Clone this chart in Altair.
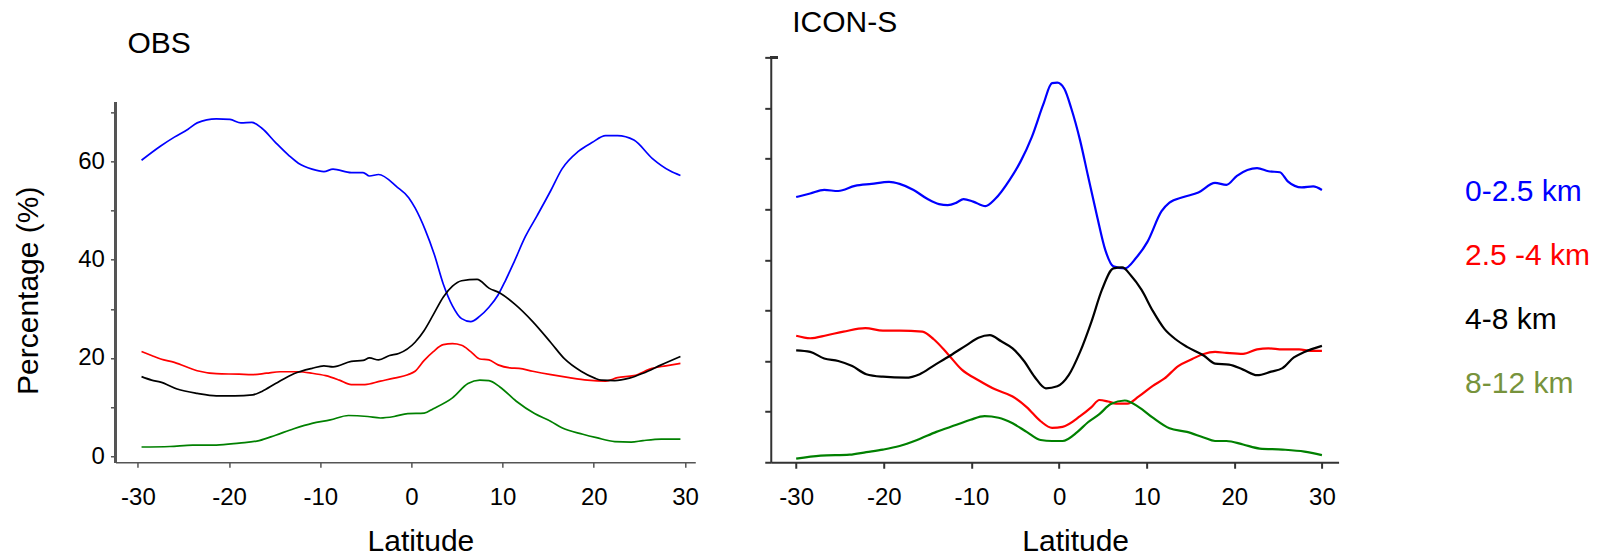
import altair as alt
import pandas as pd

FONT = "Liberation Sans"

LAYERS = ["0-2.5 km", "2.5 -4 km", "4-8 km", "8-12 km"]
LINE_COLORS = ["#0000ff", "#ff0000", "#000000", "#008000"]
LABEL_COLORS = ["#0000ff", "#ff0000", "#000000", "#77933c"]
LAT_TICKS = [-30, -20, -10, 0, 10, 20, 30]

# ---- OBS: cloud-top height fraction (%) against latitude ----
OBS_LOW_LAT = [-29.6, -27.5, -26, -24.5, -23.5, -21.4, -19.9, -18.7, -17.5, -16.4,
               -14.9, -13.4, -12.4, -10.9, -9.6, -8.6, -6.6, -5.3, -4.6, -3.6,
               -1.6, -0.3, 0.4, 1.5, 2.5, 3.5, 4.5, 5.5, 6.5, 7.5,
               8.5, 9.5, 10.3, 11.3, 12.5, 13.8, 15.3, 16.5, 18.3, 19.8,
               21.3, 22.6, 24.4, 26.4, 28.4, 29.5]
OBS_LOW_PCT = [60.2, 63.1, 64.9, 66.5, 67.8, 68.6, 68.5, 67.8, 67.9, 66.7,
               63.8, 61.1, 59.6, 58.4, 57.9, 58.4, 57.7, 57.7, 57.0, 57.3,
               54.8, 52.6, 50.5, 46.1, 41.1, 35.0, 30.6, 28.0, 27.4, 28.5,
               30.3, 32.8, 35.7, 39.7, 44.7, 49.0, 54.1, 58.4, 62.0, 63.8,
               65.2, 65.2, 64.3, 60.6, 58.0, 57.1]

OBS_MID_LAT = [-29.6, -28.5, -27.5, -26, -23.5, -21.4, -18.9, -17.5, -15.9, -14.4,
               -12.4, -10.9, -9.4, -7.9, -6.6, -5.1, -3.4, -1.9, -0.4, 0.4,
               1.4, 2.4, 3.5, 4.5, 5.5, 6.5, 7.5, 8.5, 9.5, 10.8,
               11.8, 13.3, 15.3, 17.3, 19.3, 21.3, 22.6, 24.4, 26.4, 27.9, 29.5]
OBS_MID_PCT = [21.3, 20.5, 19.8, 19.1, 17.4, 16.8, 16.7, 16.6, 16.9, 17.2,
               17.2, 16.9, 16.4, 15.5, 14.6, 14.6, 15.3, 15.9, 16.6, 17.3,
               19.5, 21.3, 22.7, 22.9, 22.6, 21.3, 19.8, 19.6, 18.6, 18.0,
               17.9, 17.3, 16.6, 16.0, 15.5, 15.3, 16.0, 16.4, 17.9, 18.4, 18.9]

OBS_HIGH_LAT = [-29.6, -28.5, -27.5, -25.7, -23.5, -21.4, -19.4, -17.4, -16.4, -14.9,
                -12.9, -10.9, -9.6, -8.6, -6.6, -5.3, -4.6, -3.6, -2.4, -1.4,
                0.4, 1.4, 2.4, 3.5, 4.5, 5.5, 7.2, 8.5, 9.7, 11.3,
                13.3, 15.3, 16.8, 18.6, 20.1, 20.8, 22.3, 23.9, 25.4, 27.4, 29.5]
OBS_HIGH_PCT = [16.2, 15.5, 15.1, 13.7, 12.8, 12.3, 12.3, 12.5, 13.2, 14.8,
                16.8, 17.9, 18.4, 18.2, 19.3, 19.5, 20.0, 19.6, 20.5, 20.9,
                23.2, 25.6, 28.8, 32.4, 34.6, 35.7, 36.0, 34.2, 33.2, 31.0,
                27.4, 23.1, 19.8, 17.3, 15.9, 15.5, 15.4, 15.9, 16.9, 18.6, 20.3]

OBS_TOP_LAT = [-29.6, -26.5, -24, -21.4, -18.9, -16.7, -14.9, -12.9, -10.9, -8.9,
               -6.9, -4.8, -3.4, -1.9, -0.4, 1.4, 2.4, 4.5, 6.2, 7.5,
               8.5, 9.7, 11.5, 13.5, 15.3, 16.5, 18.8, 20.3, 22.3, 24.1,
               25.4, 27.4, 29.5]
OBS_TOP_PCT = [1.9, 2.0, 2.3, 2.3, 2.7, 3.2, 4.3, 5.6, 6.7, 7.4,
               8.3, 8.1, 7.8, 8.1, 8.7, 8.8, 9.7, 11.9, 14.8, 15.5,
               15.4, 14.1, 11.2, 8.7, 7.1, 5.8, 4.5, 3.8, 3.0, 2.9,
               3.2, 3.5, 3.5]

# ---- ICON-S ----
ICON_LOW_LAT = [-30, -28.4, -26.8, -25.2, -23.3, -21.4, -19.4, -18.2, -16.6, -15.0,
                -13.7, -12.7, -11.7, -10.9, -9.8, -8.4, -7.3, -5.6, -4.4, -3.1,
                -1.8, -0.8, -0.2, 0.6, 1.4, 2.4, 3.3, 4.3, 5.3, 6.2,
                7.5, 8.8, 10.1, 11.7, 12.6, 14.2, 15.9, 17.8, 19.1, 20.3,
                22.6, 23.9, 25.2, 26.1, 27.7, 29.0, 30.0]
ICON_LOW_PCT = [52.4, 53.1, 53.8, 53.6, 54.6, 55.0, 55.4, 55.0, 53.8, 52.0,
                51.0, 50.8, 51.3, 52.0, 51.5, 50.6, 52.0, 55.9, 59.4, 64.3,
                70.7, 74.9, 75.0, 73.8, 69.9, 63.6, 56.6, 48.9, 41.8, 38.7,
                38.3, 40.4, 43.6, 49.6, 51.3, 52.4, 53.3, 55.2, 54.8, 56.6,
                58.1, 57.5, 57.3, 55.5, 54.3, 54.5, 53.8]

ICON_MID_LAT = [-30, -28.4, -26.5, -24.6, -22.1, -20.1, -18.2, -15.6, -14.3, -12.7,
                -11.1, -9.2, -7.3, -5.3, -3.7, -2.1, -0.8, 0.4, 2.4, 3.7,
                4.6, 5.6, 6.5, 7.8, 9.1, 10.7, 12.0, 13.6, 15.2, 16.5,
                17.8, 19.1, 21.0, 22.6, 23.9, 25.5, 27.4, 28.7, 30.0]
ICON_MID_PCT = [25.0, 24.5, 25.1, 25.8, 26.5, 26.0, 26.0, 25.8, 24.3, 21.4,
                18.3, 16.2, 14.4, 13.0, 10.9, 8.1, 6.8, 7.0, 9.1, 10.9,
                12.3, 12.0, 11.6, 11.6, 13.0, 15.1, 16.5, 19.0, 20.4, 21.4,
                21.8, 21.6, 21.4, 22.3, 22.5, 22.3, 22.3, 22.0, 22.0]

ICON_HIGH_LAT = [-30, -28.4, -26.8, -25.2, -23.6, -22.0, -20.1, -17.5, -15.9, -14.3,
                 -12.4, -10.5, -9.2, -7.9, -6.6, -5.3, -4.0, -2.8, -1.5, -0.2,
                 1.1, 2.4, 3.7, 4.9, 6.2, 7.2, 8.2, 9.4, 10.7, 12.0,
                 13.3, 14.6, 16.5, 17.8, 19.4, 21.0, 22.6, 24.2, 25.5, 26.8,
                 28.0, 30.0]
ICON_HIGH_PCT = [22.1, 21.8, 20.5, 20.0, 19.0, 17.4, 16.9, 16.7, 17.4, 19.1,
                 21.1, 23.2, 24.6, 25.1, 23.9, 22.5, 20.0, 16.9, 14.6, 15.0,
                 17.2, 21.8, 27.8, 34.1, 38.3, 38.5, 36.9, 34.1, 29.9, 26.4,
                 24.3, 22.8, 21.1, 19.5, 19.3, 18.3, 17.2, 17.9, 18.6, 20.7,
                 21.8, 23.0]

ICON_TOP_LAT = [-30, -27.2, -23.9, -22.0, -20.1, -18.2, -16.2, -14.0, -11.7, -10.1,
                -8.5, -6.9, -5.3, -3.7, -2.1, -0.8, 0.4, 2.1, 3.3, 4.6,
                5.9, 7.5, 9.1, 10.7, 12.6, 14.6, 16.5, 17.8, 19.1, 21.0,
                22.9, 25.5, 28.0, 30.0]
ICON_TOP_PCT = [0.7, 1.3, 1.5, 2.0, 2.5, 3.2, 4.4, 6.0, 7.4, 8.4,
                9.1, 8.8, 7.7, 6.0, 4.4, 4.2, 4.2, 6.0, 7.9, 9.5,
                11.5, 12.2, 10.9, 8.8, 6.7, 6.0, 4.9, 4.2, 4.2, 3.5,
                2.7, 2.5, 2.1, 1.4]

# axis extents (left panel y-axis line runs slightly past the 0..70 ticks)
OBS_X_DOMAIN = [-32.46, 31.13]
OBS_Y_DOMAIN = [-1.2, 81.12]
OBS_Y_LINE = [-1.2, 71.9]
ICON_X_DOMAIN = [-32.9, 31.9]
ICON_Y_DOMAIN = [0, 80]

# plain hyphen for negative tick labels
HYPHEN_LABEL = "datum.value < 0 ? '-' + abs(datum.value) : '' + datum.value"


def long_table(series):
    rows = []
    for layer, lats, pcts in series:
        rows += [{"layer": layer, "lat": a, "pct": b} for a, b in zip(lats, pcts)]
    return pd.DataFrame(rows)


obs_df = long_table([
    (LAYERS[0], OBS_LOW_LAT, OBS_LOW_PCT),
    (LAYERS[1], OBS_MID_LAT, OBS_MID_PCT),
    (LAYERS[2], OBS_HIGH_LAT, OBS_HIGH_PCT),
    (LAYERS[3], OBS_TOP_LAT, OBS_TOP_PCT),
])
icon_df = long_table([
    (LAYERS[0], ICON_LOW_LAT, ICON_LOW_PCT),
    (LAYERS[1], ICON_MID_LAT, ICON_MID_PCT),
    (LAYERS[2], ICON_HIGH_LAT, ICON_HIGH_PCT),
    (LAYERS[3], ICON_TOP_LAT, ICON_TOP_PCT),
])

line_color = alt.Color("layer:N", scale=alt.Scale(domain=LAYERS, range=LINE_COLORS), legend=None)

# ---- left panel: OBS ----
obs_lines = alt.Chart(obs_df).mark_line(strokeWidth=1.7, interpolate="monotone").encode(
    x=alt.X("lat:Q",
            scale=alt.Scale(domain=OBS_X_DOMAIN, nice=False, zero=False),
            axis=alt.Axis(values=LAT_TICKS, labelExpr=HYPHEN_LABEL,
                          tickSize=5, labelPadding=18,
                          domainColor="#555555", tickColor="#555555",
                          domainWidth=1.5, tickWidth=1.5,
                          title="Latitude", titleX=305, titleY=88.5,
                          titleAlign="center", titleBaseline="alphabetic")),
    y=alt.Y("pct:Q",
            scale=alt.Scale(domain=OBS_Y_DOMAIN, nice=False, zero=False),
            axis=alt.Axis(values=list(range(0, 71, 10)),
                          labelExpr="datum.value % 20 === 0 ? datum.label : ''",
                          domain=False, tickSize=5, labelPadding=6,
                          tickColor="#555555", tickWidth=1.5,
                          title="Percentage (%)", titleAngle=270,
                          titleX=-86.5, titleY=233,
                          titleAlign="center", titleBaseline="middle")),
    color=line_color,
)
obs_axis_line = alt.Chart(obs_df).mark_rule(color="#555555", strokeWidth=1.5).encode(
    x=alt.value(0),
    y=alt.datum(OBS_Y_LINE[0]),
    y2=alt.datum(OBS_Y_LINE[1]),
)
left = alt.layer(obs_lines, obs_axis_line).properties(
    width=580, height=405,
    title=alt.TitleParams("OBS", anchor="start", frame="group", dx=12,
                          offset=-25.5, baseline="alphabetic"),
)

# ---- right panel: ICON-S ----
icon_lines = alt.Chart(icon_df).mark_line(strokeWidth=2.2, interpolate="monotone").encode(
    x=alt.X("lat:Q",
            scale=alt.Scale(domain=ICON_X_DOMAIN, nice=False, zero=False),
            axis=alt.Axis(values=LAT_TICKS, labelExpr=HYPHEN_LABEL,
                          tickSize=6, labelPadding=17,
                          domainColor="#333333", tickColor="#333333",
                          domainWidth=2, tickWidth=2,
                          title="Latitude", titleX=304.5, titleY=88.5,
                          titleAlign="center", titleBaseline="alphabetic")),
    y=alt.Y("pct:Q",
            scale=alt.Scale(domain=ICON_Y_DOMAIN, nice=False, zero=False),
            axis=alt.Axis(values=list(range(0, 81, 10)), labels=False,
                          tickSize=6, domainColor="#333333", tickColor="#333333",
                          domainWidth=2, tickWidth=2, title=None)),
    color=line_color,
)
# short cap on the inner side of the top y tick
icon_cap = alt.Chart(icon_df).mark_rule(color="#333333", strokeWidth=2).encode(
    x=alt.value(0),
    x2=alt.value(7),
    y=alt.datum(ICON_Y_DOMAIN[1]),
)
right = alt.layer(icon_lines, icon_cap).properties(
    width=568, height=405,
    title=alt.TitleParams("ICON-S", anchor="start", frame="group", dx=21.5,
                          offset=-6.1, baseline="alphabetic"),
)

# ---- coloured layer labels ----
legend_df = pd.DataFrame({"label": LAYERS})
legend = alt.Chart(legend_df).mark_text(align="left", baseline="middle",
                                         fontSize=30, font=FONT).encode(
    x=alt.value(0),
    y=alt.Y("label:N", sort=LAYERS,
            scale=alt.Scale(type="point", range=[135, 327], padding=0), axis=None),
    text="label:N",
    color=alt.Color("label:N", scale=alt.Scale(domain=LAYERS, range=LABEL_COLORS), legend=None),
).properties(width=136, height=405)

right_block = alt.hconcat(right, legend, spacing=126.5, bounds="flush").resolve_scale(
    x="independent", y="independent", color="independent")

chart = alt.hconcat(left, right_block, spacing=75.5, bounds="flush").resolve_scale(
    x="independent", y="independent", color="independent"
).properties(
    padding={"left": 13.5, "top": 8.3, "right": 0, "bottom": 0},
    background="white",
).configure_view(
    stroke=None
).configure_axis(
    labelFont=FONT, titleFont=FONT, labelFontSize=24, titleFontSize=30,
    titleFontWeight="normal", labelColor="black", titleColor="black", grid=False,
).configure_title(
    font=FONT, fontSize=30, fontWeight="normal", color="black",
)

chart.save("out.html", embed_options={"renderer": "svg", "actions": False})
